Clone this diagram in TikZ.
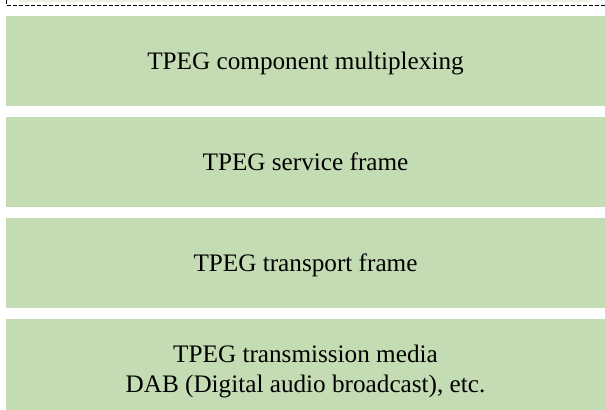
\documentclass[tikz,border=0pt]{standalone}
\usepackage{fontspec}
\setmainfont{Liberation Serif}
\usetikzlibrary{positioning}
\definecolor{layer}{HTML}{C4DCB4}
\definecolor{pale}{HTML}{EAF2E4}

\begin{document}
\begin{tikzpicture}[
  x=1pt,y=1pt,
  layerbox/.style={fill=layer,draw=none,inner sep=0pt,outer sep=0pt,
    minimum width=299.5pt,minimum height=45pt,align=center,
    text depth=0pt,font=\fontsize{12.6}{15}\selectfont},
  node distance=5.5pt]
  \clip (0,0) rectangle (302.5,-204.5);

  % top edge of the frame above
  \fill[pale] (9.5,0) rectangle (295,-1);
  \draw[line width=.5pt,dash pattern=on 2pt off 1pt]
    (3,0) -- (3,-2.5) -- (302.5,-2.5);

  % protocol layers
  \node[layerbox,anchor=north west] (mux) at (3,-8)
    {TPEG component multiplexing};
  \node[layerbox,below=of mux] (service) {TPEG service frame};
  \node[layerbox,below=of service] (transport) {TPEG transport frame};
  \node[layerbox,below=of transport,minimum height=50pt] (media)
    {TPEG transmission media\\DAB (Digital audio broadcast), etc.};
\end{tikzpicture}
\end{document}
